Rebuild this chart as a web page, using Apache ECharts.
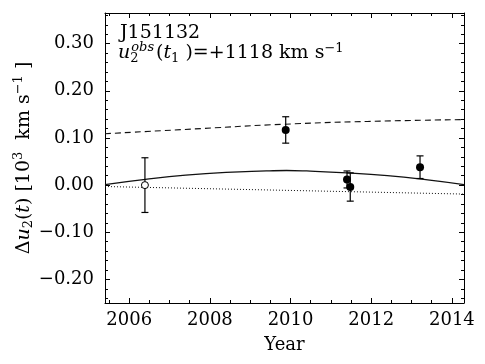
<!DOCTYPE html>
<html>
<head>
<meta charset="utf-8">
<script src="https://cdn.jsdelivr.net/npm/echarts@6/dist/echarts.min.js"></script>
<style>
html,body{margin:0;padding:0;background:#fff;}
#chart{width:485px;height:364px;}
</style>
</head>
<body>
<div id="chart"></div>
<script>
// observed points (year, delta u2 in 10^3 km/s, error)
var obsYear = [2006.39, 2009.88, 2011.40, 2011.48, 2013.21];
var obsDv   = [0.000, 0.117, 0.012, -0.004, 0.038];
var obsErr  = [0.058, 0.028, 0.018, 0.030, 0.024];
var obsOpen = [true, false, false, false, false];

// model curves
var solidYear = [2005.4, 2006.4, 2007.4, 2008.4, 2009.4, 2009.9, 2010.4, 2011.4, 2012.4, 2013.4, 2014.3];
var solidDv   = [0.001, 0.012, 0.021, 0.027, 0.030, 0.031, 0.030, 0.026, 0.020, 0.011, 0.001];
var dashYear  = [2005.4, 2007.8, 2009.8, 2011.9, 2014.3];
var dashDv    = [0.109, 0.120, 0.129, 0.135, 0.139];
var dotYear   = [2005.4, 2014.3];
var dotDv     = [-0.003, -0.019];

// ticks
var xMajor = [2006, 2008, 2010, 2012, 2014];
var xMinor = [2005.5, 2006.5, 2007, 2007.5, 2008.5, 2009, 2009.5, 2010.5, 2011, 2011.5, 2012.5, 2013, 2013.5];
var yMajor = [-0.2, -0.1, 0, 0.1, 0.2, 0.3];
var yMinor = [-0.24, -0.22, -0.18, -0.16, -0.14, -0.12, -0.08, -0.06, -0.04, -0.02,
              0.02, 0.04, 0.06, 0.08, 0.12, 0.14, 0.16, 0.18, 0.22, 0.24, 0.26, 0.28,
              0.32, 0.34, 0.36];

var X_MIN = 2005.4, X_MAX = 2014.3, Y_MIN = -0.25, Y_MAX = 0.365;
var FONT = 'DejaVu Serif';

function zip(a, b){
	var out = [];
	for (var i = 0; i < a.length; i++) out.push([a[i], b[i]]);
	return out;
}

function xAx(pos, ticks, len, withLabel){
	return {
		type: 'value', position: pos, min: X_MIN, max: X_MAX,
		axisLine: {show: withLabel, onZero: false, lineStyle: {color: '#000', width: 1}},
		axisTick: {show: true, inside: true, length: len, customValues: ticks, lineStyle: {color: '#000', width: 1}},
		axisLabel: withLabel ? {
			show: true, customValues: xMajor, color: '#000', fontFamily: FONT, fontSize: 18, margin: 8,
			formatter: function(v){ return String(Math.round(v)); }
		} : {show: false},
		splitLine: {show: false}
	};
}
function yAx(pos, ticks, len, withLabel){
	return {
		type: 'value', position: pos, min: Y_MIN, max: Y_MAX,
		axisLine: {show: withLabel, onZero: false, lineStyle: {color: '#000', width: 1}},
		axisTick: {show: true, inside: true, length: len, customValues: ticks, lineStyle: {color: '#000', width: 1}},
		axisLabel: withLabel ? {
			show: true, customValues: yMajor, color: '#000', fontFamily: FONT, fontSize: 18, margin: 11,
			formatter: function(v){ return (v < 0 ? '\u2212' : '') + Math.abs(v).toFixed(2); }
		} : {show: false},
		splitLine: {show: false}
	};
}

var xAxes = [xAx('bottom', xMajor, 5, true), xAx('bottom', xMinor, 3, false),
             xAx('top', xMajor, 5, true), xAx('top', xMinor, 3, false)];
xAxes[0].name = 'Year';
xAxes[0].nameLocation = 'middle';
xAxes[0].nameGap = 33;
xAxes[0].nameTextStyle = {color: '#000', fontFamily: FONT, fontSize: 18};
xAxes[2].axisLabel = {show: false};

var yAxes = [yAx('left', yMajor, 5, true), yAx('left', yMinor, 3, false),
             yAx('right', yMajor, 5, true), yAx('right', yMinor, 3, false)];
yAxes[2].axisLabel = {show: false};
yAxes[0].name = '{n|\u0394}{i|u}{sb|2}{n|(}{i|t}{n|) [10}{sp|3}{n|  km s}{sp|\u22121}{n| ]}';
yAxes[0].nameLocation = 'middle';
yAxes[0].nameGap = 68;
yAxes[0].nameMoveOverlap = false;
yAxes[0].nameRotate = 90;
yAxes[0].nameTextStyle = {
	color: '#000', fontFamily: FONT, fontSize: 19,
	rich: {
		n: {fontFamily: FONT, fontSize: 19, color: '#000', lineHeight: 26, verticalAlign: 'middle'},
		i: {fontFamily: FONT, fontSize: 19, fontStyle: 'italic', color: '#000', lineHeight: 26, verticalAlign: 'middle'},
		sb: {fontFamily: FONT, fontSize: 13, color: '#000', lineHeight: 13, verticalAlign: 'bottom', padding: [0, 0, 2, 0]},
		sp: {fontFamily: FONT, fontSize: 13, color: '#000', lineHeight: 13, verticalAlign: 'top', padding: [1, 0, 0, 0]}
	}
};

var errData = [], fillData = [], openData = [];
for (var i = 0; i < obsYear.length; i++){
	errData.push([obsYear[i], obsDv[i], obsErr[i]]);
	if (obsOpen[i]) openData.push([obsYear[i], obsDv[i]]);
	else fillData.push([obsYear[i], obsDv[i]]);
}

var myChart = echarts.init(document.getElementById('chart'));
myChart.setOption({
	animation: false,
	backgroundColor: '#fff',
	grid: {left: 105, right: 21, top: 13, bottom: 61, containLabel: false, outerBoundsMode: 'none'},
	xAxis: xAxes,
	yAxis: yAxes,
	graphic: [
		{type: 'text', left: 120, top: 24, z: 100,
		 style: {text: 'J151132', font: '19px "DejaVu Serif"', fill: '#000'}},
		{type: 'text', left: 118, top: 41, z: 100,
		 style: {
			text: '{i|u}{sb|2}{so|obs}{n|(}{i|t}{sb2|1}{n| )=+1118 km s}{sp|\u22121}',
			fill: '#000',
			rich: {
				n: {fontFamily: FONT, fontSize: 19, fill: '#000', lineHeight: 25, verticalAlign: 'middle'},
				i: {fontFamily: FONT, fontSize: 19, fontStyle: 'italic', fill: '#000', lineHeight: 25, verticalAlign: 'middle'},
				sb: {fontFamily: FONT, fontSize: 13, fill: '#000', lineHeight: 13, verticalAlign: 'bottom', width: 1, padding: [0, 0, 1, 0]},
				sb2: {fontFamily: FONT, fontSize: 13, fill: '#000', lineHeight: 13, verticalAlign: 'bottom', padding: [0, 0, 1, 0]},
				so: {fontFamily: FONT, fontSize: 13, fontStyle: 'italic', fill: '#000', lineHeight: 13, verticalAlign: 'top', padding: [0, 2, 0, 0]},
				sp: {fontFamily: FONT, fontSize: 13, fill: '#000', lineHeight: 13, verticalAlign: 'top', padding: [1, 0, 0, 0]}
			}
		 }}
	],
	series: [
		{
			type: 'line', data: zip(dashYear, dashDv), showSymbol: false, smooth: true,
			lineStyle: {color: '#111', width: 1.1, type: [6, 4]}, z: 2
		},
		{
			type: 'line', data: zip(solidYear, solidDv), showSymbol: false, smooth: true,
			lineStyle: {color: '#111', width: 1.3}, z: 2
		},
		{
			type: 'line', data: zip(dotYear, dotDv), showSymbol: false,
			lineStyle: {color: '#111', width: 1, type: [1, 2]}, z: 2
		},
		{
			type: 'custom', data: errData, z: 3,
			renderItem: function(params, api){
				var x = api.value(0), y = api.value(1), e = api.value(2);
				var t = api.coord([x, y + e]);
				var b = api.coord([x, y - e]);
				var st = {stroke: '#000', lineWidth: 1.2};
				return {type: 'group', children: [
					{type: 'line', shape: {x1: t[0], y1: t[1], x2: b[0], y2: b[1]}, style: st},
					{type: 'line', shape: {x1: t[0] - 3.5, y1: t[1], x2: t[0] + 3.5, y2: t[1]}, style: st},
					{type: 'line', shape: {x1: b[0] - 3.5, y1: b[1], x2: b[0] + 3.5, y2: b[1]}, style: st}
				]};
			}
		},
		{
			type: 'scatter', data: fillData, symbol: 'circle', symbolSize: 8, z: 4,
			itemStyle: {color: '#000', opacity: 1}
		},
		{
			type: 'scatter', data: openData, symbol: 'circle', symbolSize: 7, z: 4,
			itemStyle: {color: '#fff', borderColor: '#000', borderWidth: 1, opacity: 1}
		}
	]
});
</script>
</body>
</html>
